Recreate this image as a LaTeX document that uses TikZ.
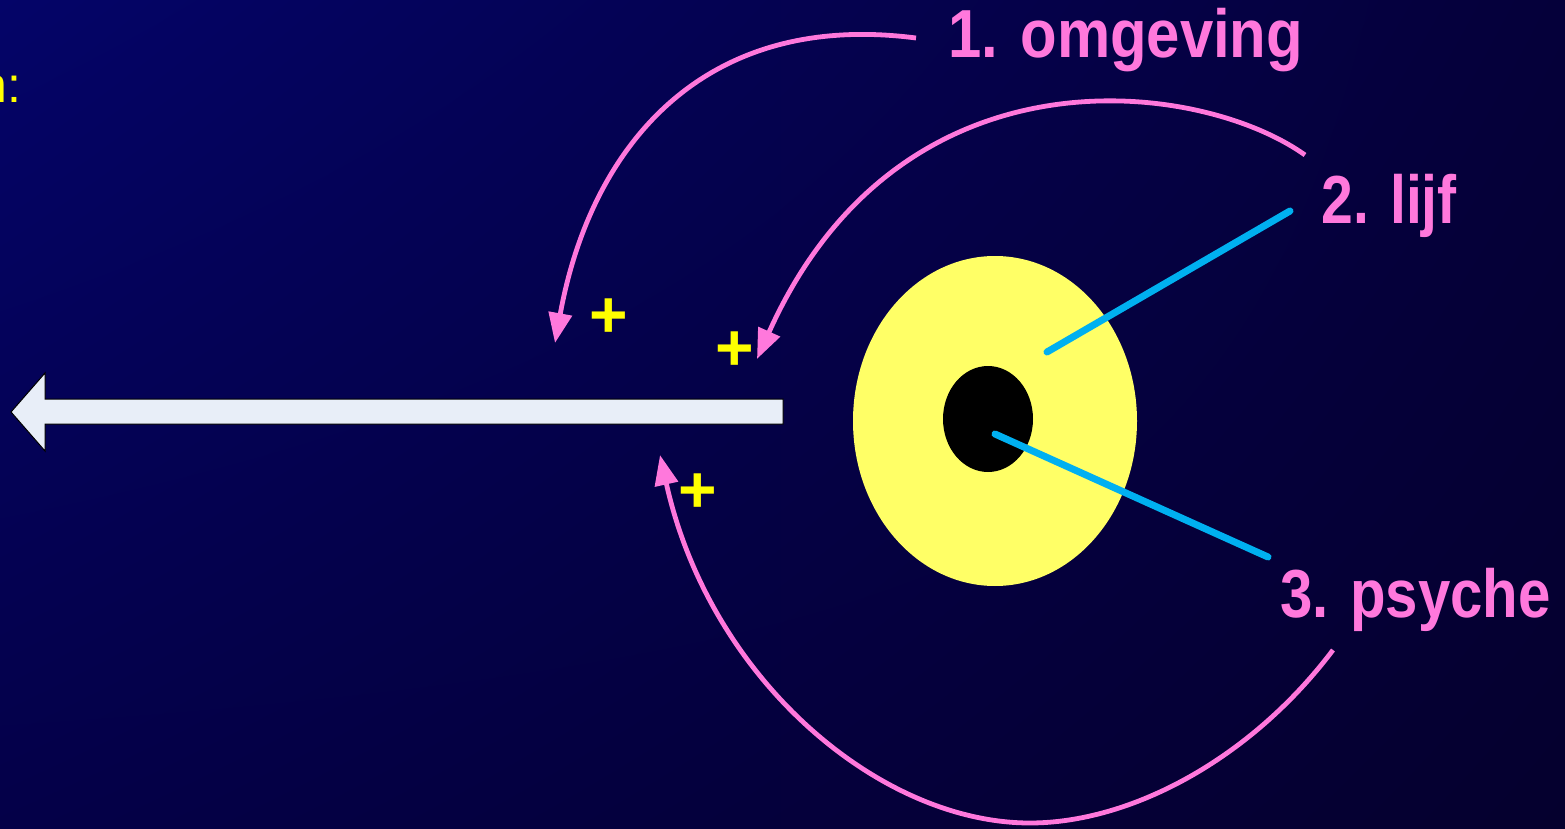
\documentclass[tikz,border=0pt]{standalone}
\usepackage{fontspec}
\setmainfont{Liberation Sans}
\usetikzlibrary{arrows.meta,shapes.geometric,shadings}
\definecolor{bgA}{RGB}{4,4,104}
\definecolor{bgB}{RGB}{5,0,58}
\definecolor{bgC}{RGB}{4,0,72}
\definecolor{bgD}{RGB}{5,0,46}
\definecolor{pinkc}{RGB}{255,120,220}
\definecolor{cyanc}{RGB}{0,176,240}
\definecolor{yellowc}{RGB}{255,255,102}
\definecolor{arrowc}{RGB}{232,238,248}
\definecolor{plusc}{RGB}{255,255,0}
\begin{document}
\begin{tikzpicture}[x=0.5pt,y=-0.5pt,
  feedback/.style={draw=pinkc, line width=2.4pt, -{Triangle[length=15pt,width=11.5pt]}},
  leader/.style={draw=cyanc, line width=3.5pt, line cap=round},
  lbl/.style={text=pinkc, font=\fontsize{34}{40}\selectfont\bfseries, inner sep=0pt, anchor=base west},
  plussign/.style={text=plusc, font=\fontsize{33}{40}\selectfont\bfseries, inner sep=0pt}]
\shade[upper left=bgA, upper right=bgB, lower left=bgC, lower right=bgD] (0,0) rectangle (1565,829);
\useasboundingbox (0,0) rectangle (1565,829);

% top-left fragment
\node[text=plusc, font=\fontsize{25}{30}\selectfont, anchor=base east, inner sep=0pt] (nn) at (22,103) {n:};

% white arrow
\draw[fill=arrowc, draw=black, line width=0.5pt] (783,399) -- (45,399) -- (45,373) -- (11,412) -- (45,451) -- (45,424) -- (783,424) -- cycle;

% body and core
\node[ellipse, fill=yellowc, minimum width=142pt, minimum height=165pt, inner sep=0pt] (lijf) at (995,421) {};
\node[ellipse, fill=black, minimum width=45pt, minimum height=53pt, inner sep=0pt] (psy) at (988,419) {};

% labels
\node[lbl] (omg) at (948,58) {\scalebox{0.88}[1]{1. omgeving}};
\node[lbl] (lij) at (1321,224) {\scalebox{0.84}[1]{2. lijf}};
\node[lbl] (psc) at (1280,617) {\scalebox{0.855}[1]{3. psyche}};

% leader lines
\coordinate (l1a) at (1047,352); \coordinate (l1b) at (1290,211);
\coordinate (l2a) at (995,434);  \coordinate (l2b) at (1268,557);
\draw[leader] (l1a) -- (l1b);
\draw[leader] (l2a) -- (l2b);

% feedback curves
\coordinate (s1) at (916,38);   \coordinate (e1) at (555,343);
\coordinate (s2) at (1305,155); \coordinate (e2) at (757,359);
\coordinate (s3) at (1333,650); \coordinate (m3) at (1030,823); \coordinate (e3) at (660,455);
\draw[feedback] (s1) .. controls (700,10) and (590,150) .. (e1);
\draw[feedback] (s2) .. controls (1200,80) and (900,40) .. (e2);
\draw[feedback] (s3) .. controls (1250,760) and (1130,823) .. (m3) .. controls (880,823) and (710,680) .. (e3);

% plus signs
\node[plussign] (p1) at (609,318) {+};
\node[plussign] (p2) at (735,351) {+};
\node[plussign] (p3) at (698,493) {+};
\end{tikzpicture}
\end{document}
